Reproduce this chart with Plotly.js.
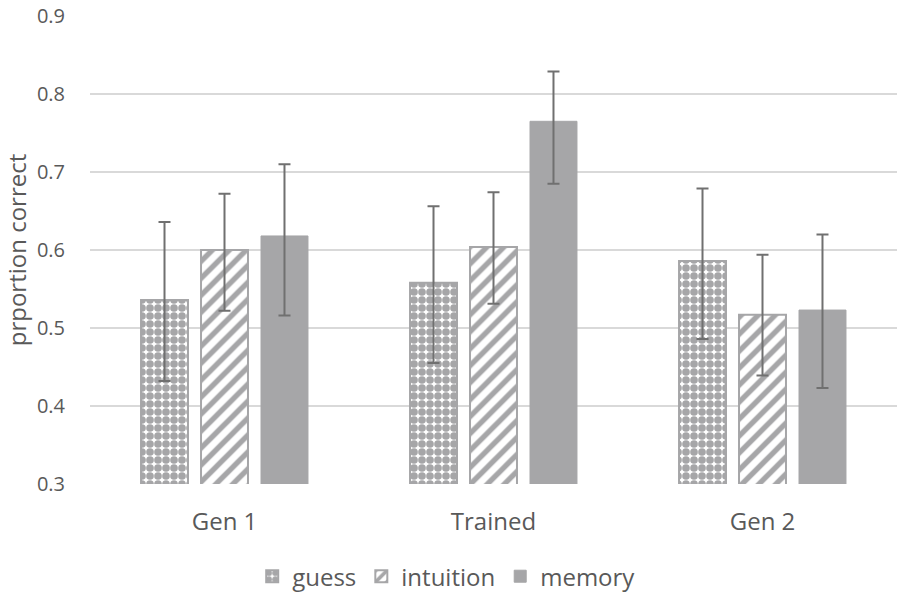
<!DOCTYPE html>
<html>
<head>
<meta charset="utf-8">
<script src="https://cdn.plot.ly/plotly-3.0.1.min.js"></script>
<style>html,body{margin:0;padding:0;background:#fff;}#chart{width:897px;height:592px;}</style>
</head>
<body>
<div id="chart"></div>
<script>
var categories = ["Gen 1", "Trained", "Gen 2"];
var guess = [0.536, 0.558, 0.586];
var guessErrPlus = [0.100, 0.098, 0.093];
var guessErrMinus = [0.104, 0.103, 0.100];
var intuition = [0.600, 0.604, 0.517];
var intuitionErrPlus = [0.072, 0.070, 0.077];
var intuitionErrMinus = [0.078, 0.073, 0.078];
var memory = [0.618, 0.765, 0.523];
var memoryErrPlus = [0.092, 0.064, 0.097];
var memoryErrMinus = [0.102, 0.080, 0.100];
var yTicks = [0.3, 0.4, 0.5, 0.6, 0.7, 0.8, 0.9];

var grey = "#a6a6a8";
var errColor = "#707070";
var FONT = "'Open Sans', sans-serif";

function errObj(p, m) {
  return {type: "data", symmetric: false, array: p, arrayminus: m,
          color: errColor, thickness: 2, width: 6, visible: true};
}

var traces = [
  {type: "bar", name: "guess", x: categories, y: guess,
   error_y: errObj(guessErrPlus, guessErrMinus),
   marker: {color: "#ffffff", line: {color: grey, width: 2},
            pattern: {shape: ".", fgcolor: grey, bgcolor: "#ffffff", size: 8, solidity: 0.72}}},
  {type: "bar", name: "intuition", x: categories, y: intuition,
   error_y: errObj(intuitionErrPlus, intuitionErrMinus),
   marker: {color: "#ffffff", line: {color: grey, width: 2},
            pattern: {shape: "/", fgcolor: grey, bgcolor: "#ffffff", size: 12, solidity: 0.45}}},
  {type: "bar", name: "memory", x: categories, y: memory,
   error_y: errObj(memoryErrPlus, memoryErrMinus),
   marker: {color: grey, line: {color: grey, width: 1}}}
];

var layout = {
  width: 897, height: 592,
  paper_bgcolor: "#ffffff", plot_bgcolor: "#ffffff",
  margin: {l: 90, r: 0, t: 16, b: 108},
  barmode: "group", bargap: 0.331, bargroupgap: 0.217,
  font: {family: FONT, color: "#595959"},
  showlegend: true,
  legend: {orientation: "h", xref: "container", yref: "container",
           x: 0.498, xanchor: "center", y: 0.026, yanchor: "middle",
           font: {size: 24, color: "#595959", family: FONT},
           itemwidth: 30, tracegroupgap: 0},
  xaxis: {type: "category", showgrid: false, zeroline: false, showline: false,
          ticks: "outside", ticklen: 16, tickcolor: "rgba(0,0,0,0)",
          tickfont: {size: 24, color: "#595959", family: FONT}},
  yaxis: {range: [0.3, 0.9], tickvals: yTicks, ticktext: yTicks.map(function(v){return v.toFixed(1);}),
          showgrid: true, gridcolor: "#d9d9d9", gridwidth: 1.5, zeroline: false, showline: false,
          ticks: "outside", ticklen: 20, tickcolor: "rgba(0,0,0,0)",
          tickfont: {size: 20, color: "#595959", family: FONT},
          title: {text: "prportion correct", font: {size: 24, color: "#595959", family: FONT}, standoff: 4}}
};

Plotly.newPlot("chart", traces, layout, {displayModeBar: false, staticPlot: true});
</script>
</body>
</html>
